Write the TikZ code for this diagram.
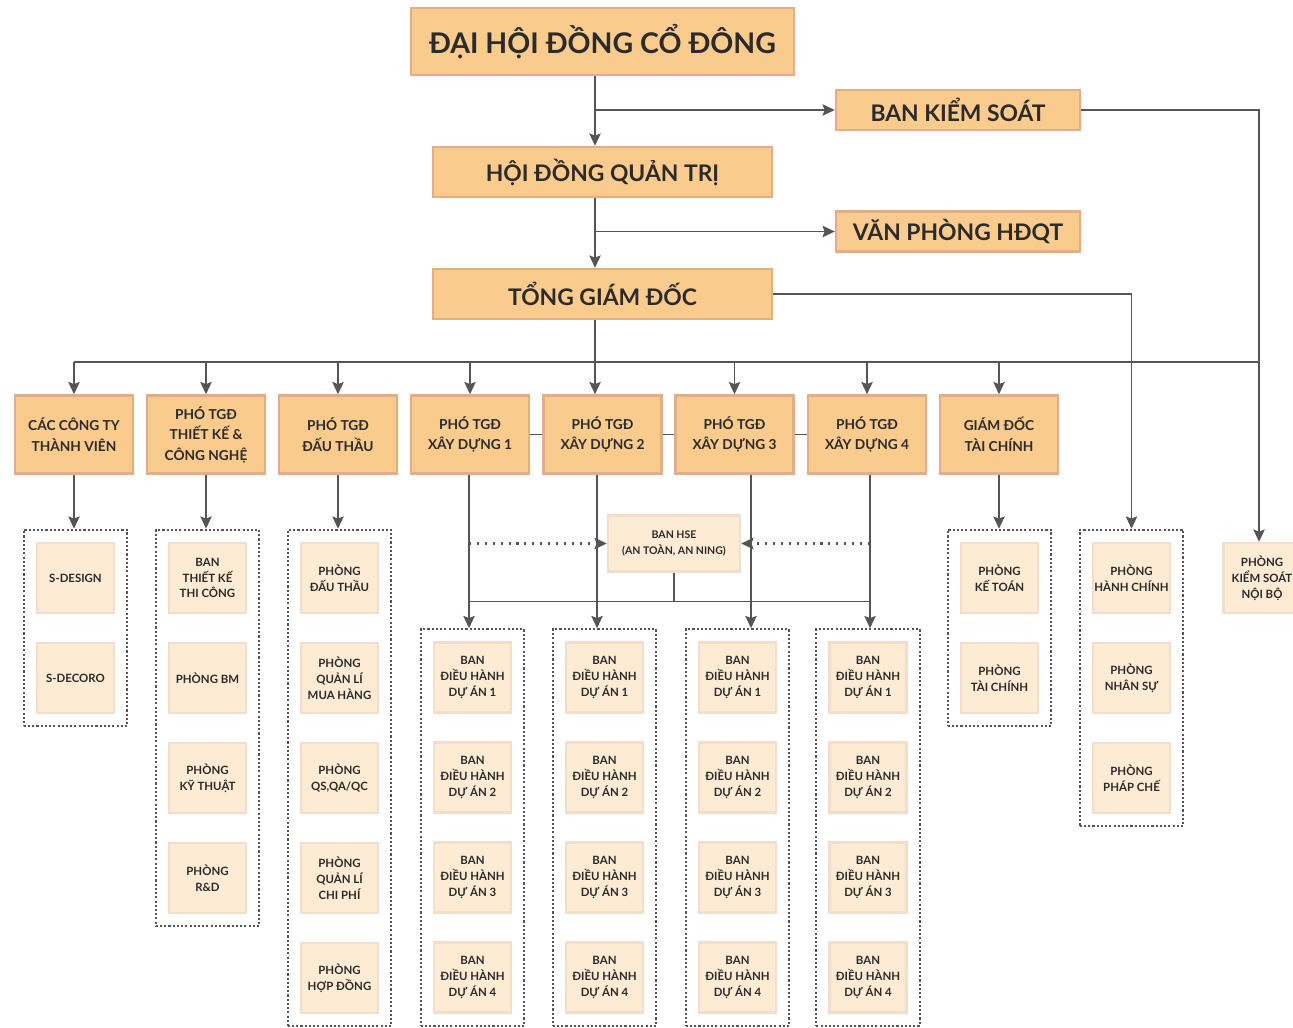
\documentclass[tikz,border=0pt]{standalone}
\usepackage{fontspec}
\setmainfont{Lato}
\usetikzlibrary{arrows.meta,fit}

\definecolor{boxfill}{HTML}{F9CB8C}
\definecolor{boxline}{HTML}{E3AE86}
\definecolor{subfill}{HTML}{FDEBD3}
\definecolor{subline}{HTML}{F3DDCB}
\definecolor{linegray}{HTML}{555555}
\definecolor{txt}{HTML}{2B2B2B}

\tikzset{
  topbox/.style={draw=boxline,fill=boxfill,line width=1.4pt,text=txt,
    font=\bfseries\fontsize{13}{15}\selectfont,inner sep=0pt},
  sidebox/.style={topbox,minimum width=4.88cm,minimum height=0.8cm},
  mainbox/.style={topbox,minimum width=6.78cm,minimum height=1cm},
  midbox/.style={draw=boxline,fill=boxfill,line width=1.4pt,text=txt,
    minimum width=2.36cm,minimum height=1.56cm,align=center,inner sep=0pt,
    font=\bfseries\fontsize{7.8}{11.7}\selectfont},
  subbox/.style={draw=subline,fill=subfill,line width=1.4pt,text=txt,
    minimum width=1.54cm,minimum height=1.4cm,align=center,inner sep=0pt,
    font=\bfseries\fontsize{6.5}{9}\selectfont},
  grp/.style={draw=linegray,line width=1.2pt,dash pattern=on 1.2pt off 1.2pt,inner sep=0.24cm},
  link/.style={draw=linegray,line width=0.85pt},
  arr/.style={link,-{Stealth[length=7pt,width=6.5pt,inset=1.2pt]}},
  dotarr/.style={arr,line width=1.2pt,dash pattern=on 1.2pt off 3.3pt}
}

\begin{document}
\begin{tikzpicture}[x=0.02cm,y=-0.02cm]
\useasboundingbox (0,0) rectangle (1293,1027);

% top of the chart
\node[topbox,minimum width=7.66cm,minimum height=1.34cm,font=\bfseries\fontsize{16.2}{18}\selectfont] (dhdcd) at (602.5,41.5) {ĐẠI HỘI ĐỒNG CỔ ĐÔNG};
\node[sidebox] (bks) at (958,110) {BAN KIỂM SOÁT};
\node[mainbox] (hdqt) at (602.5,172) {HỘI ĐỒNG QUẢN TRỊ};
\node[sidebox] (vp) at (958,231.5) {VĂN PHÒNG HĐQT};
\node[mainbox] (tgd) at (602.5,294) {TỔNG GIÁM ĐỐC};

\coordinate (k1) at (595,110);
\coordinate (k2) at (595,231.5);
\coordinate (bus) at (595,362);

% second row
\node[midbox] (ct) at (74,434.5) {CÁC CÔNG TY\\THÀNH VIÊN};
\node[midbox] (tk) at (206,434.5) {PHÓ TGĐ\\THIẾT KẾ \&\\CÔNG NGHỆ};
\node[midbox] (dt) at (338,434.5) {PHÓ TGĐ\\ĐẤU THẦU};
\foreach \n/\x in {1/470,2/602.5,3/734.5,4/867}
  \node[midbox] (xd\n) at (\x,434.5) {PHÓ TGĐ\\XÂY DỰNG \n};
\node[midbox] (tc) at (999,434.5) {GIÁM ĐỐC\\TÀI CHÍNH};

% groups
\foreach \i/\lab in {1/S-DESIGN,2/S-DECORO}
  \node[subbox] (ct\i) at (75.5,{478+100*\i}) {\lab};
\node[grp,fit=(ct1)(ct2)] (gct) {};

\foreach \i/\lab in {1/{BAN\\THIẾT KẾ\\THI CÔNG},2/{PHÒNG BM},3/{PHÒNG\\KỸ THUẬT},4/{PHÒNG\\R\&D}}
  \node[subbox] (tk\i) at (207.5,{478+100*\i}) {\lab};
\node[grp,fit=(tk1)(tk4)] (gtk) {};

\foreach \i/\lab in {1/{PHÒNG\\ĐẤU THẦU},2/{PHÒNG\\QUẢN LÍ\\MUA HÀNG},3/{PHÒNG\\QS,QA/QC},4/{PHÒNG\\QUẢN LÍ\\CHI PHÍ},5/{PHÒNG\\HỢP ĐỒNG}}
  \node[subbox] (dt\i) at (339.5,{478+100*\i}) {\lab};
\node[grp,fit=(dt1)(dt5)] (gdt) {};

\foreach \g/\x in {1/472.5,2/604.5,3/737.5,4/868}{
  \foreach \i in {1,...,4}
    \node[subbox] (b\g\i) at (\x,{577.5+100*\i}) {BAN\\ĐIỀU HÀNH\\DỰ ÁN \i};
  \node[grp,fit=(b\g1)(b\g4)] (gxd\g) {};
}

\foreach \i/\lab in {1/{PHÒNG\\KẾ TOÁN},2/{PHÒNG\\TÀI CHÍNH}}
  \node[subbox] (tc\i) at (999.5,{478+100*\i}) {\lab};
\node[grp,fit=(tc1)(tc2)] (gtc) {};

\foreach \i/\lab in {1/{PHÒNG\\HÀNH CHÍNH},2/{PHÒNG\\NHÂN SỰ},3/{PHÒNG\\PHÁP CHẾ}}
  \node[subbox] (hc\i) at (1131.5,{478+100*\i}) {\lab};
\node[grp,fit=(hc1)(hc3)] (ghc) {};

\node[subbox] (pks) at (1262,578) {PHÒNG\\KIỂM SOÁT\\NỘI BỘ};

\node[subbox,minimum width=2.64cm,minimum height=1.12cm,font=\bfseries\fontsize{6}{9.6}\selectfont] (hse) at (674,543.5) {BAN HSE\\(AN TOÀN, AN NING)};

% connectors
\draw[arr] (dhdcd.south -| k1) -- (hdqt.north -| k1);
\draw[arr] (k1) -- (bks.west);
\draw[arr] (bks.east) -| (pks.north -| 1259,0);
\draw[arr] (hdqt.south -| k2) -- (tgd.north -| k2);
\draw[arr] (k2) -- (vp.west);
\draw[arr] (tgd.east) -| (ghc.north);
\draw[arr] (tgd.south -| bus) -- (xd2.north -| bus);
\draw[link] (ct.north |- bus) -- (1259,362);
\foreach \n in {ct,tk,dt,xd1,xd3,xd4,tc}
  \draw[arr] (bus -| \n.north) -- (\n.north);
\draw[link] (xd1.east) -- (xd2.west);
\draw[link] (xd2.east) -- (xd3.west);
\draw[link] (xd3.east) -- (xd4.west);
\draw[arr] (ct.south) -- (gct.north -| ct.south);
\draw[arr] (tk.south) -- (gtk.north -| tk.south);
\draw[arr] (dt.south) -- (gdt.north -| dt.south);
\draw[arr] (tc.south) -- (gtc.north -| tc.south);

\coordinate (v1) at (469,601.5);
\coordinate (v2) at (597,601.5);
\coordinate (v3) at (751,601.5);
\coordinate (v4) at (870,601.5);
\foreach \g in {1,...,4}
  \draw[arr] (xd\g.south -| v\g) -- (gxd\g.north -| v\g);
\draw[dotarr] (v1 |- hse) -- (hse.west);
\draw[dotarr] (v4 |- hse) -- (hse.east);
\draw[link] (hse.south) -- (hse.south |- v1);
\draw[link] (v1) -- (v4);
\end{tikzpicture}
\end{document}
